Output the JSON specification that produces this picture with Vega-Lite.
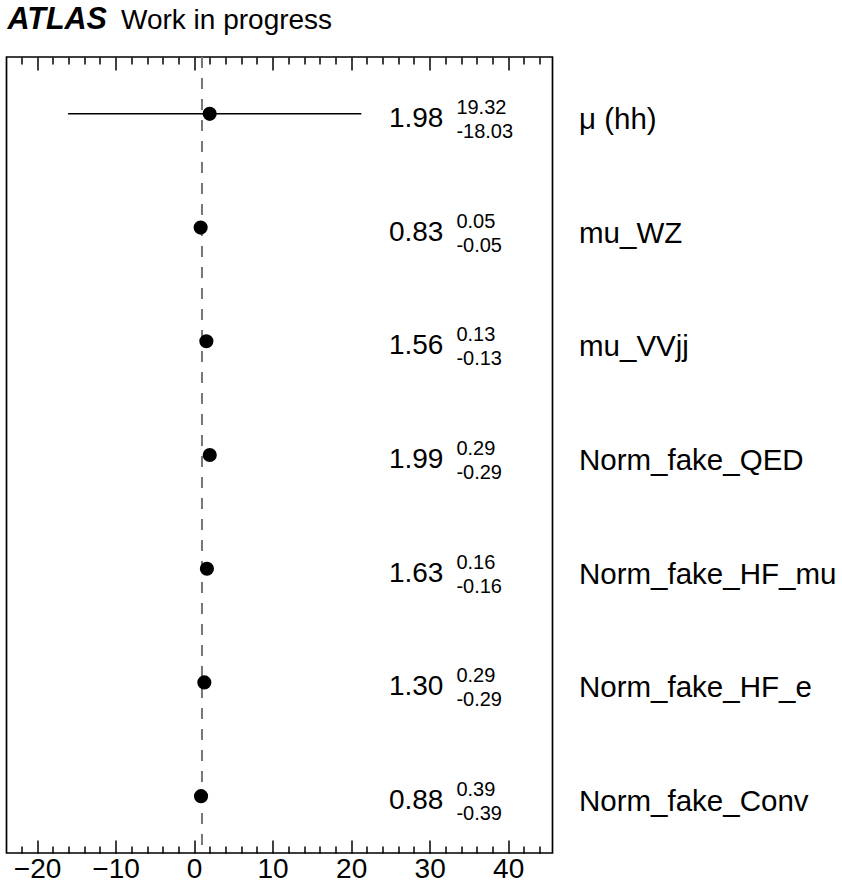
{
  "$schema": "https://vega.github.io/schema/vega-lite/v6.json",
  "width": 546,
  "height": 796,
  "autosize": {"type": "none"},
  "padding": {"left": 6.5, "top": 57, "right": 289.5, "bottom": 33},
  "background": "white",
  "config": {
    "view": {"stroke": "black", "strokeWidth": 1.7},
    "font": "Liberation Sans",
    "axis": {"labelFont": "Liberation Sans", "titleFont": "Liberation Sans", "labelColor": "black", "titleColor": "black", "tickColor": "black", "grid": false, "domain": false},
    "axisY": {"orient": "right", "ticks": false, "domain": false, "labelPadding": 26, "labelFontSize": 29.5, "labelAlign": "left", "labelBaseline": "middle", "labelOffset": 6, "labelLimit": 400, "title": null}
  },
  "data": {
    "values": [
      {"name": "μ (hh)", "value": 1.98, "hi": 19.32, "lo": -18.03},
      {"name": "mu_WZ", "value": 0.83, "hi": 0.05, "lo": -0.05},
      {"name": "mu_VVjj", "value": 1.56, "hi": 0.13, "lo": -0.13},
      {"name": "Norm_fake_QED", "value": 1.99, "hi": 0.29, "lo": -0.29},
      {"name": "Norm_fake_HF_mu", "value": 1.63, "hi": 0.16, "lo": -0.16},
      {"name": "Norm_fake_HF_e", "value": 1.30, "hi": 0.29, "lo": -0.29},
      {"name": "Norm_fake_Conv", "value": 0.88, "hi": 0.39, "lo": -0.39}
    ]
  },
  "resolve": {"axis": {"x": "independent"}},
  "layer": [
    {
      "data": {"values": [{"ref": 1}]},
      "mark": {"type": "rule", "strokeDash": [11, 10], "color": "#777777", "strokeWidth": 2},
      "encoding": {
        "x": {"field": "ref", "type": "quantitative", "scale": {"domain": [-23.9, 45.65], "nice": false, "zero": false},
          "axis": {"orient": "bottom", "values": [-22, -18, -16, -14, -12, -8, -6, -4, -2, 2, 4, 6, 8, 12, 14, 16, 18, 22, 24, 26, 28, 32, 34, 36, 38, 42, 44], "tickSize": -7, "tickWidth": 1.5, "labels": false, "title": null}}
      }
    },
    {
      "mark": {"type": "errorbar", "color": "black", "thickness": 1.5},
      "encoding": {
        "x": {"field": "value", "type": "quantitative", "scale": {"domain": [-23.9, 45.65], "nice": false, "zero": false}, "axis": null},
        "xError": {"field": "hi"},
        "xError2": {"field": "lo"},
        "y": {"field": "name", "type": "nominal", "sort": null, "title": null}
      }
    },
    {
      "mark": {"type": "point", "filled": true, "color": "black", "opacity": 1, "size": 200},
      "encoding": {
        "x": {"field": "value", "type": "quantitative", "scale": {"domain": [-23.9, 45.65], "nice": false, "zero": false},
          "axis": {"orient": "bottom", "values": [-20, -10, 0, 10, 20, 30, 40], "tickSize": -13, "tickWidth": 1.5, "labels": true, "labelFontSize": 28, "labelPadding": 15, "labelFlush": false, "labelOverlap": false, "title": null}},
        "y": {"field": "name", "type": "nominal", "sort": null, "title": null}
      }
    },
    {
      "mark": {"type": "text", "align": "right", "baseline": "middle", "fontSize": 28, "dy": 5, "color": "black"},
      "encoding": {
        "x": {"datum": 31.75, "type": "quantitative", "scale": {"domain": [-23.9, 45.65], "nice": false, "zero": false},
          "axis": {"orient": "top", "values": [-20, -10, 0, 10, 20, 30, 40], "tickSize": -13, "tickWidth": 1.5, "labels": false, "title": "Work in progress", "titleFontSize": 28, "titleFontWeight": "normal", "titleX": 114, "titleY": -29, "titleAlign": "left", "titleBaseline": "alphabetic"}},
        "y": {"field": "name", "type": "nominal", "sort": null, "title": null},
        "text": {"field": "value", "type": "quantitative", "format": ".2f"}
      }
    },
    {
      "mark": {"type": "text", "align": "left", "baseline": "middle", "fontSize": 20, "dx": 13, "dy": -6, "color": "black"},
      "encoding": {
        "x": {"datum": 31.75, "type": "quantitative", "scale": {"domain": [-23.9, 45.65], "nice": false, "zero": false},
          "axis": {"orient": "top", "values": [-22, -18, -16, -14, -12, -8, -6, -4, -2, 2, 4, 6, 8, 12, 14, 16, 18, 22, 24, 26, 28, 32, 34, 36, 38, 42, 44], "tickSize": -7, "tickWidth": 1.5, "labels": false, "title": "ATLAS", "titleFontSize": 30.5, "titleFontWeight": "bold", "titleFontStyle": "italic", "titleX": 0.5, "titleY": -29, "titleAlign": "left", "titleBaseline": "alphabetic"}},
        "y": {"field": "name", "type": "nominal", "sort": null, "title": null},
        "text": {"field": "hi", "type": "quantitative", "format": ".2f"}
      }
    },
    {
      "mark": {"type": "text", "align": "left", "baseline": "middle", "fontSize": 20, "dx": 13, "dy": 18, "color": "black"},
      "encoding": {
        "x": {"datum": 31.75, "type": "quantitative", "scale": {"domain": [-23.9, 45.65], "nice": false, "zero": false}, "axis": null},
        "y": {"field": "name", "type": "nominal", "sort": null, "title": null},
        "text": {"field": "lo", "type": "nominal"}
      }
    }
  ]
}
